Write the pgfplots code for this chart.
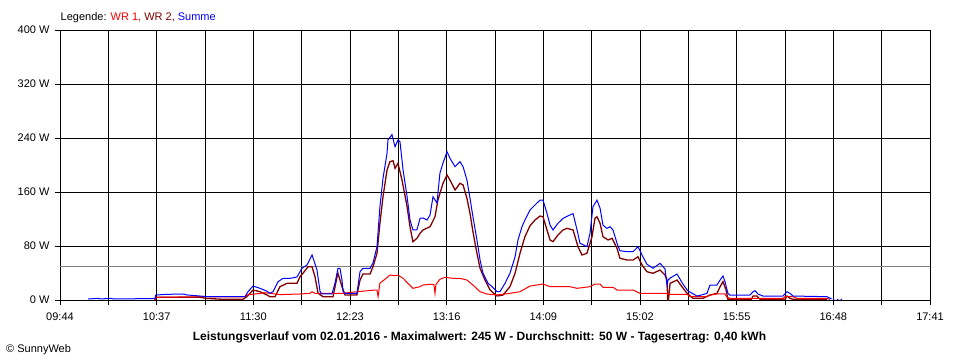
\documentclass[border=0pt]{standalone}
\usepackage{fontspec}
\setmainfont{Liberation Sans}
\usepackage{pgfplots}
\pgfplotsset{compat=1.18}
\definecolor{wrone}{RGB}{255,0,0}
\definecolor{wrtwo}{RGB}{128,0,0}
\definecolor{summe}{RGB}{0,0,255}
\definecolor{avg}{RGB}{128,128,128}
\begin{document}
\begin{tikzpicture}
\useasboundingbox (0pt,0pt) rectangle (960pt,360pt);
\begin{axis}[at={(60pt,60pt)}, anchor=south west, scale only axis, width=870pt, height=270pt,
 xmin=584, xmax=1061, ymin=0, ymax=400,
 xtick={584,610.5,637,663.5,690,716.5,743,769.5,796,822.5,849,875.5,902,928.5,955,981.5,1008,1034.5,1061},
 xticklabels={09:44,,10:37,,11:30,,12:23,,13:16,,14:09,,15:02,,15:55,,16:48,,17:41},
 ytick={0,80,160,240,320,400},
 yticklabels={0 W,80 W,160 W,240 W,320 W,400 W},
 xtick pos=bottom, ytick pos=left, tick align=outside, major tick length=5pt,
 grid=major, major grid style={black, line width=1pt},
 axis line style={black, line width=1pt},
 major tick style={black, line width=1pt},
 ticklabel style={font=\fontsize{11}{13}\selectfont},
 xticklabel style={yshift=-4pt},
 yticklabel style={xshift=-2pt},
 unbounded coords=jump,
]
\addplot[avg, line width=1pt] coordinates {(584,50)(1061,50)};
% WR 2
\addplot[wrtwo, line width=1.3pt] table {
x y
636.1 0
636.5 4.0
660.8 4.0
664 2.5
673.4 1.0
684.3 1.0
686.5 5
689.8 14.8
693.7 12.3
697.5 7.4
699.1 4.9
701.9 4.9
704.6 19.7
708.5 24.7
713.9 24.7
715.6 34.5
717.2 39.6
720 49.3
722.2 49.3
723.8 34.5
725.5 9.9
728.2 4.9
733.7 4.9
735.9 34.5
736.4 39.6
738.6 19.7
740.3 7.4
746.8 7.4
748.5 29.6
750.1 38.5
754 38.5
755.6 49.3
757.8 69.2
759.4 113.6
761.1 153
763.3 192.6
764.9 204.9
766.6 206.4
767.7 195.1
769.3 202.5
771.5 177.8
774.3 138.2
775.9 108.6
777.5 86.4
779.7 91.4
781.4 98.8
783 103.7
786.9 108.6
789.6 123.4
791.2 148.1
794 172.9
796.2 185.2
797.8 177.8
800.6 163
803.3 172.9
805 170.4
807.1 150.7
808.8 128.4
810.4 101.2
812.6 69.2
814.3 47
817 29.6
819.8 14.8
823.6 5.9
826.9 7.4
830.7 19.7
833.5 39.6
836.2 69.2
838.9 93.8
841.7 110
844.4 118.5
847.2 124.4
848.8 123.4
851 103.7
852.7 88.9
854.3 86.4
857 96.3
859.8 103.7
862 106.2
865.3 103.7
868 79
870.2 66.7
872.9 69.2
875.7 93.8
877.3 121
878.4 123.4
880.1 113.6
881.7 93.8
884.5 88.9
886.7 91.4
889.4 76.6
891 61.8
894.9 59.3
898.2 59.3
900.9 64.1
903.1 51.9
905.8 41.9
909.1 39.6
913 44.4
915.7 37
916.8 30
917.2 0
917.6 0
918.5 24.7
922.3 29.6
925 19.7
927.8 9.9
931.1 2.5
936.5 2.5
940.4 7.4
944.2 9.9
945.9 19.7
947.5 27.1
949.2 14.8
950.2 1.0
963 1.0
964 5.9
966.1 5.9
967.8 1.0
981.5 1.0
982.6 5.9
984.2 2.5
985.9 1.0
1004.5 1.0
};
% WR 1
\addplot[wrone, line width=1pt] table {
x y
636.1 0
636.5 4.0
660.8 4.9
685.4 4.5
686.5 7.4
696.4 10.8
704.6 8
715.6 8.9
721.1 9.9
722.2 12.3
723.8 9.9
739.2 9.9
741.4 10.8
756.7 14.8
757.8 14.8
758.4 4.9
758.9 14.8
759.4 25
762.2 30.7
764.9 37
767.7 36
769.3 37
772.1 32.1
774.8 24.7
777.5 17.3
781.4 19.7
783 22.2
786.9 23.3
789 23.3
789.6 9.9
790.1 23
792.3 30.7
795.1 33.6
799.5 32.1
803.3 32.1
807.1 29.6
810.4 22.2
814.3 12.3
818.1 8.9
823.6 7.4
830.7 9.9
836.2 12.3
841.7 20.7
848.8 23.7
852.7 19.7
863.6 19.7
867.5 17.3
874.6 19.7
877.3 23.7
880.1 23.7
881.7 18.8
887.2 18.8
889.4 14.8
898.2 14.8
902 9.9
916.8 9.9
918.5 8.4
927.8 8.4
929.4 4.9
938.7 4.9
940.4 7.4
944.2 8.9
948.6 8.9
949.7 4.0
951.3 2.5
980.4 2.5
981.5 4.9
985.9 4.9
988.1 2.5
1004.5 2.5
1006.2 1
};
% Summe
\addplot[summe, line width=1pt] table {
x y
599.4 1.5
605 2.5
606 1.5
612 2.5
613 1.5
630 2
636 2
636.5 7.4
642.7 8.4
651.4 8.9
653.6 7.5
660.8 5.9
664.6 5.0
684.3 4.9
685.4 5
687 12
689.8 20.7
693.7 17.3
697.5 13
699.1 9.9
700.8 12.3
703.5 27.1
706.3 32.1
710.1 32.1
713.9 34
716.7 47.0
719.4 51.9
722.2 66.7
724.9 44.4
726.6 12.3
727.6 8.9
733.1 8.9
734.8 25.2
736.4 47
737.5 47
738.6 29.6
739.2 12.3
740.3 9.9
746.8 9.9
748.5 41.9
750.1 47
754 47
755.6 54.8
757.8 79
759.4 138.2
761.1 180.3
763.3 217.3
763.8 237
766 245
767.7 227.1
769.3 237
770.4 234.5
772.1 192.6
774.3 153
775.9 118.5
777.5 104
779.7 104
781.4 121
783 121.5
785.2 118.5
786.9 126
788.5 153
790.7 143.7
792.3 188
794 203
796.2 219.7
797.8 210
800.6 197.5
803.3 205
805 197.5
807.1 177.8
808.8 150.7
810.4 123.4
812.6 88.9
814.3 59.3
815.9 39.6
818.7 24.7
820.9 19.7
823.6 12.3
825.2 12.3
828 24.7
830.7 39.6
833.5 64
835.1 88.9
837.3 108.6
838.9 118.5
841.7 133.3
844.4 140.7
847.2 148.1
848.8 148.1
851 128.4
852.7 111
854.3 103.7
857 113.6
859.8 121
863.6 126
865.3 128
867.5 103.7
869.1 84
872.9 79
874.6 99
876.2 138
878.4 148
880.1 136
881.7 111
883.9 106
885.6 108.6
887.2 103.7
889.4 84
891 73
894.9 71.6
898.2 71.6
900.9 79
903.6 64
905.8 53
909.1 47
913 54.4
915.7 46
916.8 22
917.4 29.6
918.5 32.6
922.3 38.5
925.5 23.7
928.3 13.3
933.3 5.9
936.5 8
938.7 9.9
940.4 22.2
944.2 22.2
945.9 29.6
947.5 35.6
948.6 27.1
950.2 9.9
951.3 7.4
962.3 7.4
964 12.3
965.1 13.8
966.7 8.9
969.4 5.9
980.4 5.9
982.6 12.3
984.2 9.9
985.9 5.9
1004.5 4.9
1006.2 2.5
1007 2.5
1007 nan
1007.8 1
1008.6 1
1008.6 nan
1009.9 1
1010.7 1
1010.7 nan
1012 1
1012.8 1
};
\end{axis}
\node[anchor=base west, inner sep=0, font=\fontsize{11}{13}\selectfont] at (60.5pt,339.3pt)
  {Legende: \textcolor{wrone}{WR 1,} \textcolor{wrtwo}{WR 2,} \textcolor{summe}{Summe}};
\node[anchor=base, inner sep=0, font=\fontsize{12}{14}\selectfont\bfseries] at (479.5pt,19.3pt)
  {Leistungsverlauf vom 02.01.2016 - Maximalwert: 245 W - Durchschnitt: 50 W - Tagesertrag: 0,40 kWh};
\node[anchor=base west, inner sep=0, font=\fontsize{11}{13}\selectfont] at (6pt,7.3pt) {© SunnyWeb};
\end{tikzpicture}
\end{document}
